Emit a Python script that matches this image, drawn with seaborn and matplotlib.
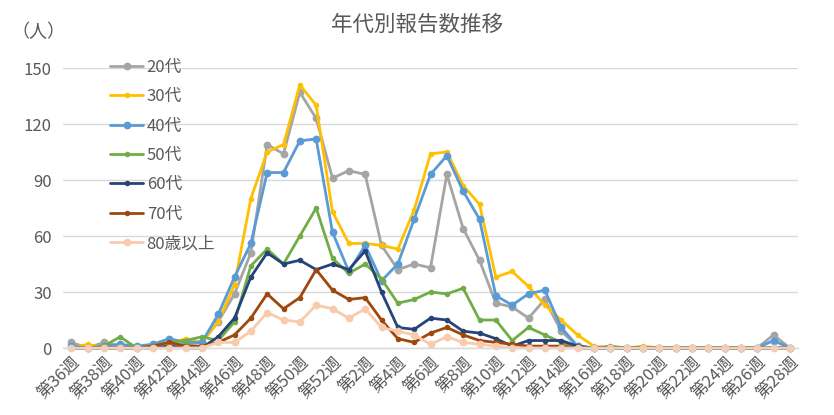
import matplotlib
matplotlib.use("Agg")
import matplotlib.pyplot as plt
import seaborn as sns
import pandas as pd

weeks = [36, 37, 38, 39, 40, 41, 42, 43, 44, 45, 46, 47, 48, 49, 50, 51, 52,
         1, 2, 3, 4, 5, 6, 7, 8, 9, 10, 11, 12, 13, 14, 15, 16, 17, 18, 19, 20,
         21, 22, 23, 24, 25, 26, 27, 28]
week_labels = [f"第{w}週" for w in weeks]

s20 = [3, 0, 3, 1, 0, 1, 2, 2, 3, 14, 29, 51, 109, 104, 137, 123, 91, 95, 93, 55, 42, 45,
       43, 93, 64, 47, 24, 22, 16, 26, 9, 1, 0, 0, 0, 0, 0, 0, 0, 0, 0, 0, 0, 7, 0]
s30 = [0, 2, 0, 0, 0, 1, 2, 5, 3, 14, 34, 80, 105, 109, 141, 130, 73, 56, 56, 55, 53, 74,
       104, 105, 87, 77, 38, 41, 33, 23, 15, 7, 1, 0, 0, 1, 0, 0, 0, 0, 0, 0, 0, 0, 0]
s40 = [1, 0, 1, 2, 1, 2, 5, 3, 3, 18, 38, 56, 94, 94, 111, 112, 62, 41, 55, 36, 45, 69,
       93, 103, 84, 69, 28, 23, 29, 31, 11, 1, 0, 0, 0, 0, 0, 0, 0, 0, 0, 0, 0, 4, 0]
s50 = [0, 0, 1, 6, 0, 1, 3, 4, 6, 4, 14, 44, 53, 45, 60, 75, 48, 40, 45, 37, 24, 26,
       30, 29, 32, 15, 15, 4, 11, 7, 3, 0, 0, 1, 0, 0, 0, 0, 0, 0, 0, 0, 0, 0, 0]
s60 = [0, 0, 0, 0, 0, 0, 1, 0, 0, 6, 16, 38, 51, 45, 47, 42, 45, 42, 52, 30, 11, 10,
       16, 15, 9, 8, 5, 1, 4, 4, 4, 1, 0, 0, 0, 0, 0, 0, 0, 0, 0, 0, 0, 0, 0]
s70 = [0, 0, 0, 0, 0, 1, 3, 1, 1, 3, 7, 16, 29, 21, 27, 42, 31, 26, 27, 15, 5, 3,
       8, 11, 7, 4, 3, 2, 1, 1, 1, 0, 0, 0, 0, 0, 0, 0, 0, 0, 0, 0, 0, 0, 0]
s80 = [0, 0, 0, 0, 0, 0, 0, 0, 0, 3, 3, 9, 19, 15, 14, 23, 21, 16, 21, 11, 9, 7,
       2, 6, 3, 2, 1, 0, 0, 0, 0, 0, 0, 0, 0, 0, 0, 0, 0, 0, 0, 0, 0, 0, 0]

series_names = ["20代", "30代", "40代", "50代", "60代", "70代", "80歳以上"]
series_vals = [s20, s30, s40, s50, s60, s70, s80]
colors = ["#A5A5A5", "#FFC000", "#5B9BD5", "#70AD47", "#264478", "#9E480E", "#F8CBAD"]
msizes = [5.6, 4.0, 5.6, 4.0, 4.0, 4.0, 5.6]

sns.set_theme(style="white")
plt.rcParams["font.family"] = ["Noto Sans CJK JP", "DejaVu Sans"]

fig = plt.figure(figsize=(8.34, 4.15), dpi=100)
ax = fig.add_axes([63 / 834, 1 - 348 / 415, (798 - 63) / 834, (348 - 68) / 415])

xs = list(range(len(weeks)))
for name, vals, col, ms in zip(series_names, series_vals, colors, msizes):
    df = pd.DataFrame({"x": xs, "y": vals})
    sns.lineplot(data=df, x="x", y="y", ax=ax, color=col, linewidth=2.0,
                 marker="o", markersize=ms, markeredgewidth=0, label=name,
                 clip_on=False)

ax.set_xlim(-0.5, len(weeks) - 0.5)
ax.set_ylim(0, 150)
ax.set_yticks([0, 30, 60, 90, 120, 150])
ax.yaxis.grid(True, color="#D9D9D9", linewidth=1)
ax.set_axisbelow(True)
for sp in ["top", "right", "left"]:
    ax.spines[sp].set_visible(False)
ax.spines["bottom"].set_color("#D9D9D9")
ax.spines["bottom"].set_linewidth(1)
ax.set_xlabel("")
ax.set_ylabel("")

tick_pos = xs[::2]
ax.set_xticks(tick_pos)
ax.set_xticklabels(week_labels[::2], rotation=45, ha="right", va="top",
                   rotation_mode="anchor", fontsize=12, color="#595959")
ax.tick_params(axis="x", length=0, pad=4)
ax.tick_params(axis="y", length=0, pad=8, labelsize=12, labelcolor="#595959")

leg = ax.legend(loc="upper left", bbox_to_anchor=(110 / 834, 1 - 59 / 415),
                bbox_transform=fig.transFigure, frameon=False, fontsize=12,
                handlelength=2.0, handletextpad=0.2, labelspacing=0.74,
                borderpad=0, borderaxespad=0)
for t in leg.get_texts():
    t.set_color("#595959")

fig.text(417 / 834, 1 - 25 / 415, "年代別報告数推移", ha="center", va="center",
         fontsize=15.5, color="#595959")
fig.text(38 / 834, 1 - 32 / 415, "（人）", ha="center", va="center",
         fontsize=13, color="#595959")

fig.savefig("out.png", dpi=100)
